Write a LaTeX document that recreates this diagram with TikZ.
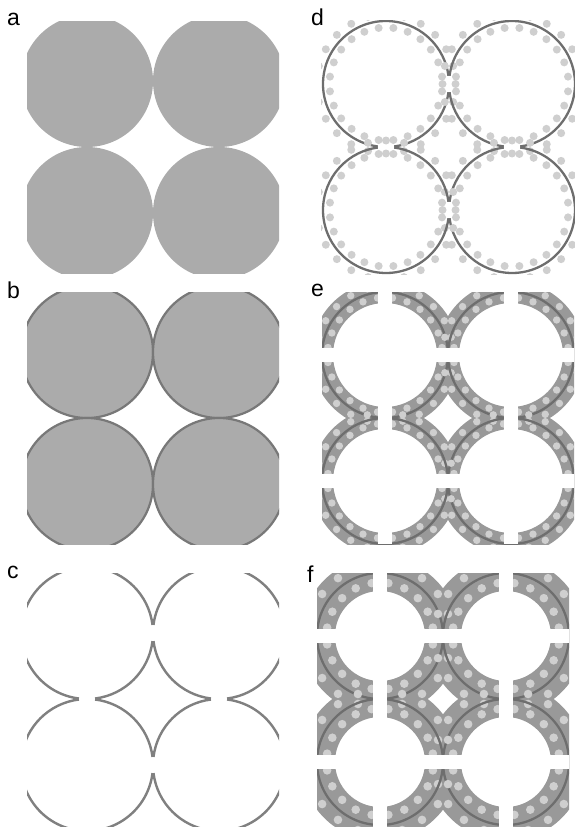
\documentclass[tikz,border=0pt]{standalone}
\usepackage{fontspec}
\setmainfont{Liberation Sans}
\usetikzlibrary{positioning}

\tikzset{
  panellabel/.style={font=\fontsize{23}{23}\selectfont, anchor=base west, inner sep=0pt},
  disc/.style={fill=black!33},
  discedge/.style={draw=black!53, line width=2.2},
  cutline/.style={draw=black!50, line width=2.4},
  seamline/.style={draw=black!57, line width=2.3},
  dotfill/.style={fill=black!19},
  bandfill/.style={fill=black!40, even odd rule}
}

\begin{document}
\begin{tikzpicture}[x=1pt,y=-1pt]
  \useasboundingbox (0,0) rectangle (575,827);

  % a: four touching discs
  \begin{scope}
    \clip (27,21) rectangle (279,273);
    \foreach \sx/\sy in {-1/-1,1/-1,-1/1,1/1}
      \fill[disc] (153+\sx*66,147+\sy*66) circle[radius=66];
  \end{scope}

  % b: discs with edge
  \begin{scope}
    \clip (27,292) rectangle (279,544);
    \foreach \sx/\sy in {-1/-1,1/-1,-1/1,1/1}
      \draw[disc, discedge] (153+\sx*66,418+\sy*66) circle[radius=66];
  \end{scope}

  % c: edges only, opened at the contacts
  \begin{scope}
    \clip (27,573) rectangle (279,827);
    \foreach \sx/\sy/\b in {-1/-1/0,1/-1/90,1/1/180,-1/1/270}{
      \coordinate (oc) at (153+\sx*66,699+\sy*66);
      \draw[cutline] (oc) ++(\b+7:66) arc[start angle=\b+7, end angle=\b+83, radius=66];
      \draw[cutline] (oc) ++(\b+97:66) arc[start angle=\b+97, end angle=\b+353, radius=66];
    }
  \end{scope}

  % d: cut line with two rows of dots
  \begin{scope}
    \clip (321,20) rectangle (575,274);
    \foreach \sx/\sy/\b in {-1/-1/0,1/-1/90,1/1/180,-1/1/270}{
      \coordinate (od) at (449+\sx*63,147+\sy*63);
      \foreach \k in {0,...,23}{
        \fill[dotfill] (od) ++(\b+15*\k:69.5) circle[radius=4];
        \fill[dotfill] (od) ++(\b+7.5+15*\k:56.5) circle[radius=4];
      }
      \draw[seamline] (od) ++(\b+7.5:63) arc[start angle=\b+7.5, end angle=\b+82.5, radius=63];
      \draw[seamline] (od) ++(\b+97.5:63) arc[start angle=\b+97.5, end angle=\b+352.5, radius=63];
    }
  \end{scope}

  % e: narrow bands, cut into tiles
  \begin{scope}
    \clip (322,292) rectangle (574,544);
    \foreach \sx/\sy in {-1/-1,1/-1,-1/1,1/1}
      \fill[bandfill] (448+\sx*63,418+\sy*63) circle[radius=74] circle[radius=52];
    \foreach \sx/\sy/\b in {-1/-1/0,1/-1/90,1/1/180,-1/1/270}{
      \coordinate (oe) at (448+\sx*63,418+\sy*63);
      \draw[seamline] (oe) circle[radius=63];
      \foreach \k in {0,...,23}{
        \fill[dotfill] (oe) ++(\b+15*\k:68.5) circle[radius=3.7];
        \fill[dotfill] (oe) ++(\b+7.5+15*\k:57.5) circle[radius=3.7];
      }
    }
    \foreach \u in {-63,63}{
      \fill[white] (448+\u-7,292) rectangle (448+\u+7,544);
      \fill[white] (322,418+\u-7) rectangle (574,418+\u+7);
    }
  \end{scope}

  % f: wide bands, cut into tiles
  \begin{scope}
    \clip (317,573) rectangle (569,827);
    \foreach \sx/\sy in {-1/-1,1/-1,-1/1,1/1}
      \fill[bandfill] (443+\sx*63,699+\sy*63) circle[radius=79] circle[radius=45];
    \foreach \sx/\sy/\b in {-1/-1/0,1/-1/90,1/1/180,-1/1/270}{
      \coordinate (of) at (443+\sx*63,699+\sy*63);
      \draw[seamline] (of) circle[radius=63];
      \foreach \k in {0,...,19}{
        \fill[dotfill] (of) ++(\b+18*\k:71.5) circle[radius=4.3];
        \fill[dotfill] (of) ++(\b+9+18*\k:53.5) circle[radius=4.3];
      }
    }
    \foreach \u in {-63,63}{
      \fill[white] (443+\u-7,573) rectangle (443+\u+7,827);
      \fill[white] (317,699+\u-7) rectangle (569,699+\u+7);
    }
  \end{scope}

  \node[panellabel] (lbla) at (7,25) {a};
  \node[panellabel] (lblb) at (7,298) {b};
  \node[panellabel] (lblc) at (7,578) {c};
  \node[panellabel] (lbld) at (311,25) {d};
  \node[panellabel] (lble) at (311,296) {e};
  \node[panellabel] (lblf) at (307,582) {f};
\end{tikzpicture}
\end{document}
